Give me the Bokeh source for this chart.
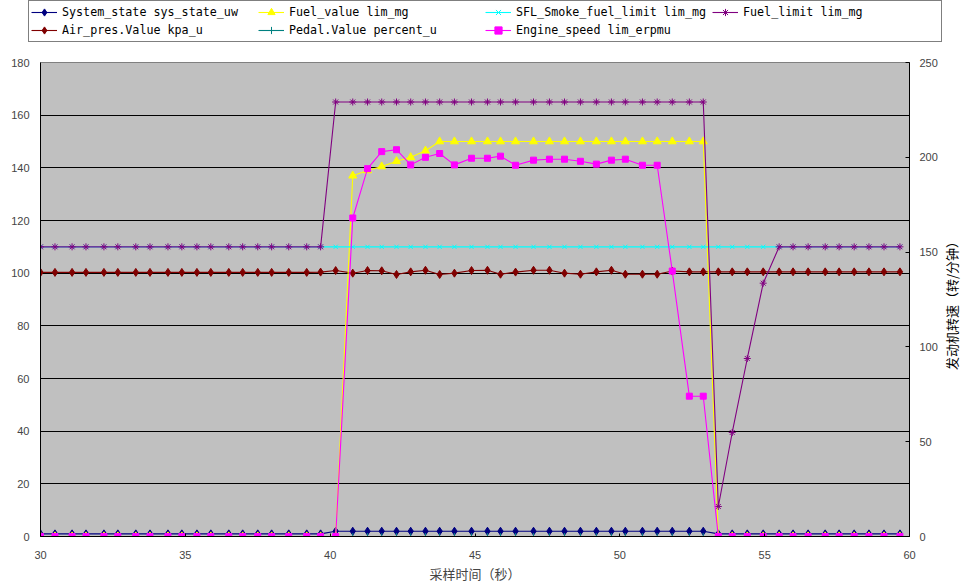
import math
from bokeh.plotting import figure
from bokeh.layouts import column, row
from bokeh.models import (Range1d, LinearAxis, FixedTicker, Legend, LegendItem,
                          ColumnDataSource, Label)
from bokeh.embed import file_html
from bokeh.resources import INLINE

# ---- data ----
time_s = [30.00, 30.50, 31.09, 31.57, 32.19, 32.67, 33.29, 33.78, 34.40, 34.88,
          35.40, 35.88, 36.50, 36.98, 37.50, 37.98, 38.57, 39.19, 39.67, 40.19,
          40.78, 41.29, 41.78, 42.29, 42.78, 43.29, 43.78, 44.29, 44.88, 45.43,
          45.88, 46.40, 47.02, 47.57, 48.09, 48.64, 49.19, 49.71, 50.19, 50.78,
          51.29, 51.81, 52.40, 52.88, 53.40, 53.88, 54.40, 54.95, 55.50, 55.98,
          56.50, 57.09, 57.57, 58.09, 58.60, 59.12, 59.67]

system_state = [1] * 19 + [2] * 25 + [1] * 13

air_pres = [100.3] * 18 + [100.4, 101.0, 100.0, 101.0, 100.9, 99.5, 100.5, 101.1,
            99.5, 100.0, 101.0, 101.1, 99.6, 100.4, 101.1, 101.1, 100.0, 99.6,
            100.5, 101.1, 99.6, 99.6, 99.6, 100.8] + [100.5] * 15

fuel_value = [0] * 20 + [137, 139, 140.5, 142.5, 144, 146.5] + [150] * 18 + [0] * 13

pedal = [0] * 57

smoke_limit = [110] * 57

fuel_limit = [110] * 19 + [165] * 25 + [11.4, 39.5, 67.6, 96.2] + [110] * 9

engine_speed = [0] * 20 + [168, 194, 203, 204, 196, 200, 202, 196, 199.5, 199.5,
                200.6, 195.8, 198.5, 199, 199, 197.9, 196.4, 198.5, 199, 195.8,
                195.8, 140, 74, 74] + [0] * 13

x_ticks = [30, 35, 40, 45, 50, 55, 60]
y_ticks = [0, 20, 40, 60, 80, 100, 120, 140, 160, 180]
rpm_ticks = [0, 50, 100, 150, 200, 250]

x_title = "采样时间（秒）"
rpm_title = "发动机转速（转/分钟）"

series = [
    # name, values, color, marker, size, secondary
    ("System_state sys_state_uw", system_state, "#000080", "diamond", 8, False),
    ("Air_pres.Value kpa_u", air_pres, "#800000", "diamond", 8, False),
    ("Fuel_value lim_mg", fuel_value, "#FFFF00", "triangle", 8, False),
    ("Pedal.Value percent_u", pedal, "#008080", "cross", 7, False),
    ("SFL_Smoke_fuel_limit lim_mg", smoke_limit, "#00FFFF", "x", 6, False),
    ("Fuel_limit lim_mg", fuel_limit, "#800080", "asterisk", 7, False),
    ("Engine_speed lim_erpmu", engine_speed, "#FF00FF", "square", 6, True),
]
legend_order = ["System_state sys_state_uw", "Fuel_value lim_mg",
                "SFL_Smoke_fuel_limit lim_mg", "Fuel_limit lim_mg",
                "Air_pres.Value kpa_u", "Pedal.Value percent_u",
                "Engine_speed lim_erpmu"]

TOTAL_W, TOTAL_H = 965, 585
LEG_H = 54
MAIN_H = TOTAL_H - LEG_H
TITLE_W = 25
MAIN_W = TOTAL_W - TITLE_W

# ---------------- main chart ----------------
p = figure(width=MAIN_W, height=MAIN_H, x_range=Range1d(30, 60),
           y_range=Range1d(0, 180),
           output_backend="svg", toolbar_location=None,
           min_border_left=40, min_border_right=MAIN_W - 910, min_border_top=8,
           min_border_bottom=49, background_fill_color="#C0C0C0",
           border_fill_color="white", outline_line_color="#808080")
p.frame_align = False
p.extra_y_ranges = {"rpm": Range1d(0, 250)}

tick_font = "Liberation Sans"
xa = p.xaxis[0]
xa.ticker = FixedTicker(ticks=x_ticks)
xa.axis_line_color = "black"
xa.major_tick_in = 3
xa.major_tick_out = 0
xa.minor_tick_line_color = None
xa.major_label_text_font = tick_font
xa.major_label_text_font_size = "11px"
xa.major_label_standoff = 14
xa.axis_label = x_title
xa.axis_label_text_font = "Noto Sans CJK SC"
xa.axis_label_text_font_size = "13px"
xa.axis_label_text_font_style = "normal"
xa.axis_label_standoff = 2

ya = p.yaxis[0]
ya.ticker = FixedTicker(ticks=y_ticks)
ya.axis_line_color = "black"
ya.major_tick_in = 0
ya.major_tick_out = 0
ya.minor_tick_line_color = None
ya.major_label_text_font = tick_font
ya.major_label_text_font_size = "11px"
ya.major_label_standoff = 11

ra = LinearAxis(y_range_name="rpm", ticker=FixedTicker(ticks=rpm_ticks))
ra.axis_line_color = "black"
ra.major_tick_in = 4
ra.major_tick_out = 0
ra.minor_tick_line_color = None
ra.major_label_text_font = tick_font
ra.major_label_text_font_size = "11px"
ra.major_label_standoff = 10
p.add_layout(ra, "right")

p.xgrid.visible = False
p.ygrid.grid_line_color = "black"
p.ygrid.grid_line_width = 1
p.ygrid.ticker = FixedTicker(ticks=y_ticks)

for name, vals, color, marker, size, secondary in series:
    src = ColumnDataSource(dict(x=time_s, y=vals))
    kw = {"y_range_name": "rpm"} if secondary else {}
    p.line("x", "y", source=src, line_color=color, line_width=1.1, **kw)
    p.scatter("x", "y", source=src, marker=marker, size=size,
              line_color=color, fill_color=color, line_width=1, **kw)

# ---------------- right-hand axis title strip ----------------
tf = figure(width=TITLE_W, height=MAIN_H, x_range=Range1d(0, 1), y_range=Range1d(0, 1),
            output_backend="svg", toolbar_location=None,
            x_axis_type=None, y_axis_type=None,
            min_border_left=0, min_border_right=0, min_border_top=0,
            min_border_bottom=0, outline_line_color=None,
            background_fill_color="white", border_fill_color="white")
tf.frame_align = False
tf.grid.visible = False
# centre of the main plot frame: y = 299 in page pixels -> from the strip bottom
tf.add_layout(Label(x=11, y=MAIN_H - (302 - LEG_H), x_units="screen", y_units="screen",
                    text=rpm_title, angle=math.pi / 2, angle_units="rad",
                    text_align="center", text_baseline="middle",
                    text_font="Noto Sans CJK SC", text_font_size="13px",
                    text_color="black"))

# ---------------- legend strip ----------------
lg = figure(width=TOTAL_W, height=LEG_H, x_range=Range1d(0, 1), y_range=Range1d(0, 1),
            output_backend="svg", toolbar_location=None,
            x_axis_type=None, y_axis_type=None,
            min_border_left=0, min_border_right=0, min_border_top=0,
            min_border_bottom=0, outline_line_color=None,
            background_fill_color="white", border_fill_color="white")
lg.frame_align = False
lg.grid.visible = False
spec = {s[0]: s for s in series}
items = []
for name in legend_order:
    _, vals, color, marker, size, _sec = spec[name]
    dsrc = ColumnDataSource(dict(x=[-5.0, -4.0], y=[-5.0, -5.0]))  # off-canvas stand-in
    lr = lg.line("x", "y", source=dsrc, line_color=color, line_width=1.1)
    sr = lg.scatter("x", "y", source=dsrc, marker=marker, size=size,
                    line_color=color, fill_color=color, line_width=1)
    items.append(LegendItem(label=name, renderers=[lr, sr]))

legend = Legend(items=items, orientation="horizontal", ncols=4,
                location=(28, 12), margin=0, padding=2, spacing=0,
                glyph_width=26, glyph_height=18, label_height=18,
                label_standoff=5, label_width=196,
                label_text_font="DejaVu Sans Mono", label_text_font_size="11.7px",
                label_text_color="black",
                border_line_color="black", border_line_width=1,
                background_fill_color="white", background_fill_alpha=1.0)
lg.add_layout(legend, "center")

layout = column(lg, row(p, tf, spacing=0), spacing=0)
open("out.html", "w").write(file_html(layout, INLINE))
